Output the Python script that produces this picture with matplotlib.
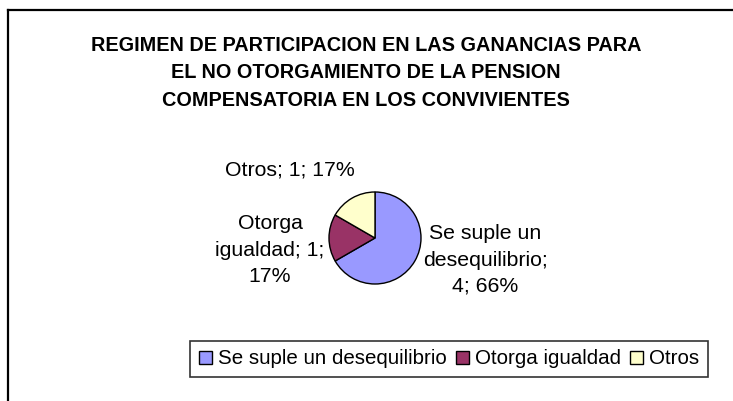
import matplotlib.pyplot as plt
from matplotlib.patches import Patch
from matplotlib.lines import Line2D

# chart data
categorias = ['Se suple un desequilibrio', 'Otorga igualdad', 'Otros']
etiquetas = ['Se suple un\ndesequilibrio;\n4; 66%', 'Otorga\nigualdad; 1;\n17%', 'Otros; 1; 17%']
valores = [4, 1, 1]
colores = ['#9999FF', '#993366', '#FFFFCC']

titulo = ('REGIMEN DE PARTICIPACION EN LAS GANANCIAS PARA\n'
          'EL NO OTORGAMIENTO DE LA PENSION\n'
          'COMPENSATORIA EN LOS CONVIVIENTES')

W, H = 733, 401
plt.rcParams['font.family'] = ['Liberation Sans', 'DejaVu Sans']

fig = plt.figure(figsize=(W / 100, H / 100), dpi=100)


def px(x, y):
    # pixel position (from top-left) -> figure fraction
    return x / W, 1 - y / H


# outer chart border (only top and left edges fall inside the picture)
fig.add_artist(Line2D([8 / W, 8 / W], [1 - 10 / H, 0], color='black', lw=1.6,
                      transform=fig.transFigure, solid_capstyle='projecting'))
fig.add_artist(Line2D([8 / W, 1], [1 - 10 / H, 1 - 10 / H], color='black', lw=1.6,
                      transform=fig.transFigure, solid_capstyle='projecting'))

# title
tx, ty = px(366, 73)
fig.text(tx, ty, titulo, ha='center', va='center', fontsize=14.3,
         fontweight='bold', linespacing=1.55)

# pie
cx, cy, r = 375, 238, 46
x0, y0 = px(cx - r, cy + r)
ax = fig.add_axes([x0, y0, 2 * r / W, 2 * r / H])
ax.pie(valores, colors=colores, startangle=90, counterclock=False,
       wedgeprops=dict(edgecolor='black', linewidth=1.0))
ax.set_xlim(-1, 1)
ax.set_ylim(-1, 1)
ax.set_aspect('auto')

# data labels
pos_etiquetas = [(485, 260), (270, 250), (290, 170)]
for texto, (lx, ly) in zip(etiquetas, pos_etiquetas):
    fx, fy = px(lx, ly)
    fig.text(fx, fy, texto, ha='center', va='center', fontsize=15.3,
             linespacing=1.5)

# legend
handles = [Patch(facecolor=c, edgecolor='black', linewidth=1.0) for c in colores]
lx, ly = px(449, 359)
leg = fig.legend(handles, categorias, loc='center', bbox_to_anchor=(lx, ly),
                 ncol=3, fontsize=14.8, frameon=True, fancybox=False,
                 edgecolor='black', handlelength=0.62, handleheight=0.62,
                 handletextpad=0.3, columnspacing=0.45, borderpad=0.42,
                 borderaxespad=0)
leg.get_frame().set_linewidth(1.2)

fig.savefig('out.png', dpi=100)
